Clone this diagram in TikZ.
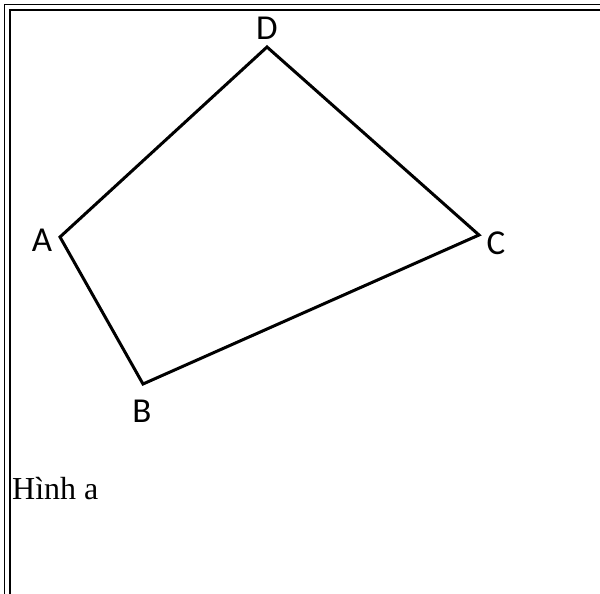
\documentclass[tikz,border=0pt]{standalone}
\usepackage{fontspec}
\setmainfont{Liberation Serif}
\newfontfamily\labelfont{Carlito}
\usepackage{tikz}
\usetikzlibrary{positioning}

\begin{document}
\begin{tikzpicture}[
    x=1pt, y=-1pt,
    frameline/.style={line width=1.7pt},
    edge/.style={line width=3pt, line join=miter},
    vlabel/.style={font=\labelfont\fontsize{35}{40}\selectfont, inner sep=0pt}
]
    \useasboundingbox (0,0) rectangle (600,594);
    % double frame
    \draw[frameline] (4.5,594) -- (4.5,4.5) -- (600,4.5);
    \draw[frameline] (10,594) -- (10,10) -- (600,10);

    \coordinate (A) at (60,237);
    \coordinate (B) at (143,384);
    \coordinate (C) at (479,235);
    \coordinate (D) at (267,47);
    \draw[edge] (A) -- (B) -- (C) -- (D) -- cycle;

    \node[vlabel] (lblA) at (42,240) {A};
    \node[vlabel] (lblB) at (142,411) {B};
    \node[vlabel] (lblC) at (496,243) {C};
    \node[vlabel] (lblD) at (267,28) {D};

    \node[anchor=base west, inner sep=0pt, font=\fontsize{32}{38}\selectfont] (caption) at (12,499) {Hình a};
\end{tikzpicture}
\end{document}
